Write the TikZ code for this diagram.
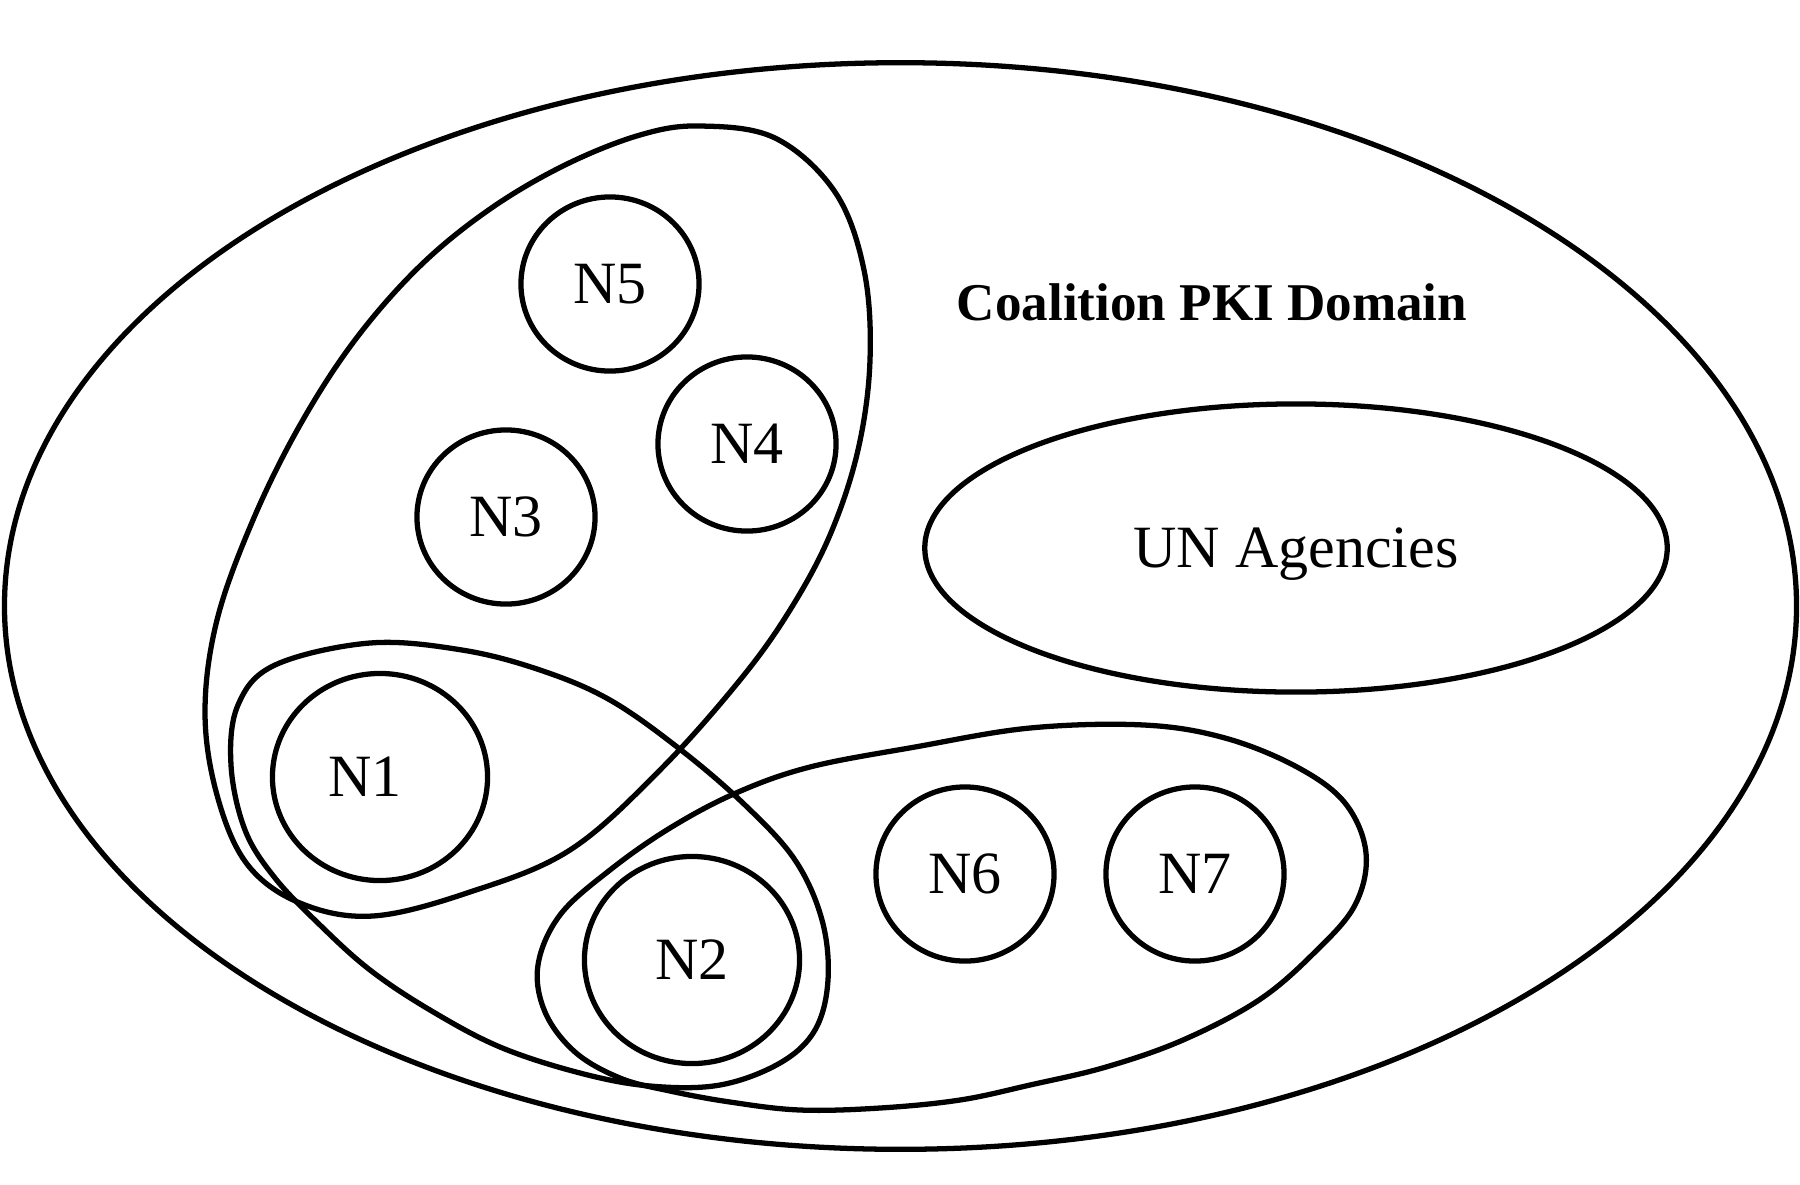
\documentclass[tikz,border=0pt]{standalone}
\usepackage{fontspec}
\setmainfont{Liberation Serif}
\usepackage{tikz}
\usetikzlibrary{shapes.geometric}
\definecolor{inkc}{HTML}{000000}
\tikzset{
  grp/.style={draw=inkc,line width=1.5pt},
  nd/.style={ellipse,draw=inkc,line width=1.5pt,inner sep=0pt,minimum width=1.78cm,minimum height=1.74cm,
    font=\fontsize{17.07}{20}\selectfont,text height=0.39cm,text depth=0pt},
  bignd/.style={nd,minimum width=2.15cm,minimum height=2.07cm},
  ttl/.style={font=\fontsize{15.1}{18}\selectfont\bfseries,anchor=base,inner sep=0pt}
}

\begin{document}
\begin{tikzpicture}[x=0.01cm,y=-0.01cm]
\useasboundingbox (0,0) rectangle (1800,1184);
\draw[grp] (900.5,606) ellipse [x radius=8.955cm,y radius=5.43cm];
\draw[grp] plot[smooth cycle,tension=0.6] coordinates {(700,126) (775,138) (835,192) (864,270) (870,360) (858,450)
  (830,535) (790,610) (740,680) (660,770) (570,850) (470,892) (373,916) (300,903) (247,864) (217,795) (205,712)
  (217,620) (253,520) (300,425) (355,340) (420,266) (490,209) (565,165) (640,135)};
\draw[grp] plot[smooth cycle,tension=0.6] coordinates {(370,643) (462,650) (540,670) (610,700) (681,750) (745,805)
  (795,860) (822,920) (828,980) (815,1030) (780,1063) (720,1085) (650,1086) (580,1073) (500,1047) (430,1010)
  (370,970) (320,925) (275,878) (245,830) (231,765) (238,705) (275,665)};
\draw[grp] plot[smooth cycle,tension=0.6] coordinates {(736,793) (810,767) (915,747) (1030,728) (1144,725) (1225,738)
  (1297,767) (1345,803) (1366,853) (1355,905) (1315,952) (1259,1000) (1183,1040) (1106,1067) (1030,1085) (960,1100)
  (880,1108) (800,1110) (730,1102) (670,1091) (620,1078) (575,1052) (545,1012) (538,965) (560,915) (610,870) (670,828)};
\node[nd,minimum width=7.42cm,minimum height=2.88cm] (un) at (1296,548) {UN Agencies};
\node[ttl] (dom) at (1212,320) {Coalition PKI Domain};
\node[bignd] (n1) at (380,777) {\kern-0.3cm N1};
\node[bignd] (n2) at (692,960) {N2};
\foreach \k/\px/\py in {3/506/517,4/747/444,5/610/284,6/965/874,7/1195/874}
  \node[nd] (n\k) at (\px,\py) {N\k};
\end{tikzpicture}
\end{document}
